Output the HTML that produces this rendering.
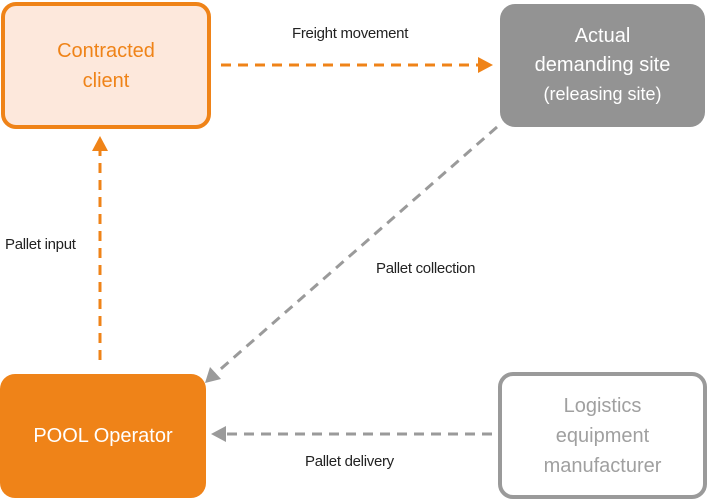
<!DOCTYPE html>
<html><head><style>
body{margin:0;width:708px;height:500px;background:#fff;position:relative;overflow:hidden;font-family:"Liberation Sans",sans-serif}
.b{position:absolute;box-sizing:border-box;border-radius:15px;display:flex;align-items:center;justify-content:center;text-align:center;line-height:30px}
.l{position:absolute;font-size:15px;color:#222;letter-spacing:-0.3px}
</style></head><body>
<div class="b" style="left:1px;top:2px;width:210px;height:127px;border:4px solid #ef8318;background:#fde8dc;color:#ef8318;font-size:20px"><div>Contracted<br>client</div></div>
<div class="b" style="left:500px;top:4px;width:205px;height:123px;background:#939393;color:#fff;font-size:20px;line-height:29px"><div>Actual<br>demanding site<br><span style="font-size:18px">(releasing site)</span></div></div>
<div class="b" style="left:0;top:374px;width:206px;height:124px;background:#ef8318;color:#fff;font-size:20px"><div>POOL Operator</div></div>
<div class="b" style="left:498px;top:372px;width:209px;height:127px;border:4px solid #9a9a9a;background:#fff;color:#a0a0a0;font-size:20px"><div>Logistics<br>equipment<br>manufacturer</div></div>
<svg width="708" height="500" style="position:absolute;left:0;top:0">
<g stroke-width="3" fill="none" stroke-dasharray="10,7">
<line x1="221" y1="65" x2="480" y2="65" stroke="#ef8318"/>
<line x1="100" y1="360" x2="100" y2="150" stroke="#ef8318"/>
<line x1="497" y1="127" x2="215" y2="374" stroke="#9a9a9a"/>
<line x1="492" y1="434" x2="226" y2="434" stroke="#9a9a9a"/>
</g>
<polygon points="493,65 478,57 478,73" fill="#ef8318"/>
<polygon points="100,136 92,151 108,151" fill="#ef8318"/>
<polygon points="205,383 210,367 221,379" fill="#9a9a9a"/>
<polygon points="211,434 226,426 226,442" fill="#9a9a9a"/>
</svg>
<div class="l" style="left:292px;top:25px">Freight movement</div>
<div class="l" style="left:5px;top:236px">Pallet input</div>
<div class="l" style="left:376px;top:260px">Pallet collection</div>
<div class="l" style="left:305px;top:453px">Pallet delivery</div>
</body></html>
